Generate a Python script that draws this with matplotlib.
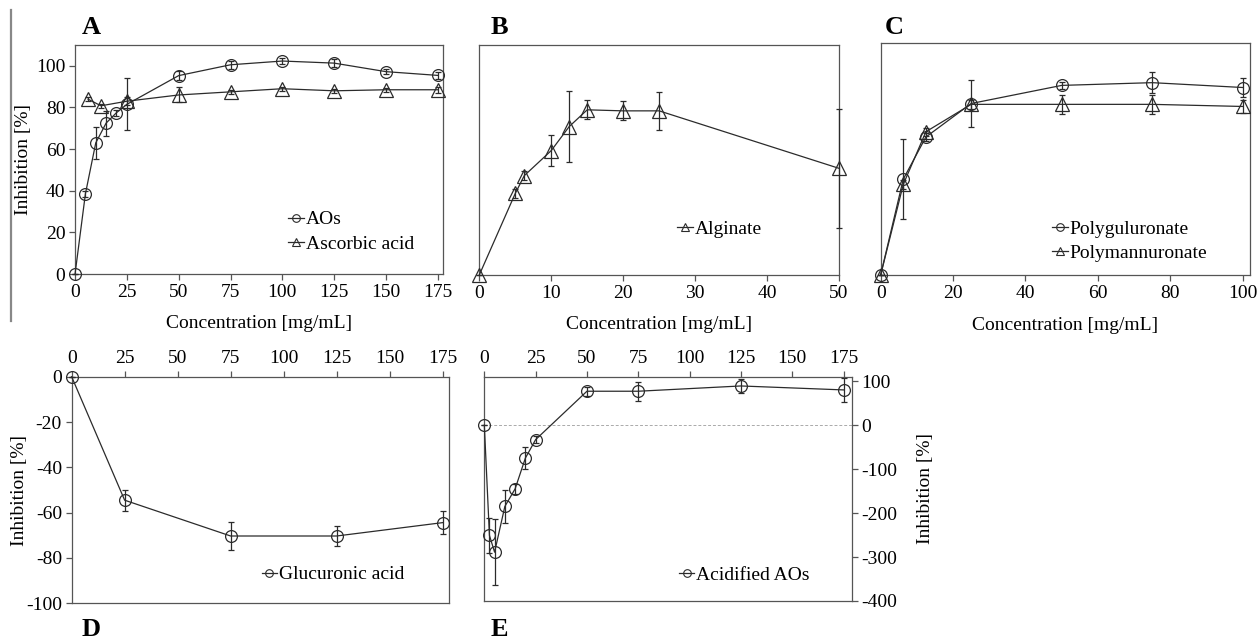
import numpy as np
import matplotlib.pyplot as plt
from matplotlib.lines import Line2D

plt.rcParams['font.family'] = ['Liberation Serif', 'DejaVu Serif']
plt.rcParams['font.size'] = 14
plt.rcParams['axes.unicode_minus'] = False

# panel A
aos_x = [0, 5, 10, 15, 20, 25, 50, 75, 100, 125, 150, 175]
aos_y = [0, 38.5, 63, 72.5, 77.5, 81.5, 95.3, 100.5, 102.3, 101.3, 97.2, 95.4]
aos_err = [0, 1.5, 7.7, 6, 1.5, 12.5, 2, 1.8, 1.5, 1.8, 1.3, 1.5]
asc_x = [6.25, 12.5, 25, 50, 75, 100, 125, 150, 175]
asc_y = [84, 80.8, 83, 86, 87.5, 89, 88, 88.5, 88.5]
asc_err = [1, 1, 2, 3.6, 1, 1, 1, 1, 1.5]

# panel B
alg_x = [0, 5, 6.25, 10, 12.5, 15, 20, 25, 50]
alg_y = [0, 39, 47.5, 59.5, 71, 79, 78.5, 78.5, 51]
alg_err = [0, 2, 2, 7.5, 17, 4.5, 4.5, 9, 28.3]

# panel C
pg_x = [0, 6.25, 12.5, 25, 50, 75, 100]
pg_y = [0, 45.5, 65.5, 81.4, 90, 91.3, 89]
pg_err = [0, 19, 2, 11, 1.5, 5, 4.5]
pm_x = [0, 6.25, 12.5, 25, 50, 75, 100]
pm_y = [0, 43, 68, 81, 81, 81, 80]
pm_err = [0, 2, 2, 2, 4.5, 4.5, 3]

# panel D
glc_x = [0, 25, 75, 125, 175]
glc_y = [0, -54.5, -70.3, -70.3, -64.4]
glc_err = [0, 4.6, 6, 4.5, 5]

# panel E
acid_x = [0, 2.5, 5, 10, 15, 20, 25, 50, 75, 125, 175]
acid_y = [0, -251, -289, -185, -145, -75, -33, 77, 77, 89, 80]
acid_err = [0, 40, 75, 38, 12, 25, 8, 10, 22, 15, 27]

LC = '#2b2b2b'
SPINE = '#555555'
FS = 14


def series(ax, x, y, err, marker, ms):
    ax.errorbar(x, y, yerr=err, color=LC, lw=0.9, elinewidth=0.9,
                capsize=2.5, capthick=0.9, marker=marker, ms=ms,
                mfc='none', mec=LC, mew=0.9, clip_on=False, zorder=3)


def style(ax):
    for s in ax.spines.values():
        s.set_color(SPINE)
        s.set_linewidth(0.9)
    ax.tick_params(direction='out', length=4, width=0.9, color=SPINE,
                   labelsize=FS, pad=3)


def legend(ax, entries, loc):
    handles = [Line2D([], [], color=LC, lw=0.9, marker=m, ms=5.5,
                      mfc='none', mec=LC, mew=0.8) for m, _ in entries]
    labels = [t for _, t in entries]
    ax.legend(handles, labels, loc='upper left', bbox_to_anchor=loc,
              frameon=False, handlelength=0.8, handletextpad=0.1,
              labelspacing=0.35, borderaxespad=0, fontsize=FS)


fig = plt.figure(figsize=(12.57, 6.42), dpi=100)

# A
axA = fig.add_axes([0.0597, 0.5732, 0.2927, 0.3567])
series(axA, aos_x, aos_y, aos_err, 'o', 8.5)
series(axA, asc_x, asc_y, asc_err, '^', 10)
axA.set_xlim(0, 177.5)
axA.set_ylim(0, 110)
axA.set_xticks([0, 25, 50, 75, 100, 125, 150, 175])
axA.set_yticks([0, 20, 40, 60, 80, 100])
axA.set_ylabel('Inhibition [%]')
axA.yaxis.set_label_coords(-0.117, 0.5)
axA.set_xlabel('Concentration [mg/mL]')
axA.xaxis.set_label_coords(0.5, -0.18)
style(axA)
legend(axA, [('o', 'AOs'), ('^', 'Ascorbic acid')], (0.559, 0.31))

# B
axB = fig.add_axes([0.3813, 0.5717, 0.2862, 0.3582])
series(axB, alg_x, alg_y, alg_err, '^', 10)
axB.set_xlim(0, 50)
axB.set_ylim(0, 110)
axB.set_xticks([0, 10, 20, 30, 40, 50])
axB.set_yticks([])
axB.set_xlabel('Concentration [mg/mL]')
axB.xaxis.set_label_coords(0.5, -0.18)
style(axB)
legend(axB, [('^', 'Alginate')], (0.528, 0.27))

# C
axC = fig.add_axes([0.7006, 0.5717, 0.2938, 0.3609])
series(axC, pg_x, pg_y, pg_err, 'o', 8.5)
series(axC, pm_x, pm_y, pm_err, '^', 10)
axC.set_xlim(0, 102)
axC.set_ylim(0, 110)
axC.set_xticks([0, 20, 40, 60, 80, 100])
axC.set_yticks([])
axC.set_xlabel('Concentration [mg/mL]')
axC.xaxis.set_label_coords(0.5, -0.18)
style(axC)
legend(axC, [('o', 'Polyguluronate'), ('^', 'Polymannuronate')], (0.443, 0.27))

# D
axD = fig.add_axes([0.0570, 0.0603, 0.3002, 0.3529])
series(axD, glc_x, glc_y, glc_err, 'o', 8.5)
axD.set_xlim(0, 178)
axD.set_ylim(-100, 0)
axD.xaxis.tick_top()
axD.set_xticks([0, 25, 50, 75, 100, 125, 150, 175])
axD.set_yticks([0, -20, -40, -60, -80, -100])
axD.set_ylabel('Inhibition [%]')
axD.yaxis.set_label_coords(-0.116, 0.5)
style(axD)
legend(axD, [('o', 'Glucuronic acid')], (0.483, 0.2))

# E
axE = fig.add_axes([0.3853, 0.0639, 0.2923, 0.3493])
axE.axhline(0, color='#aaaaaa', lw=0.7, ls=(0, (3, 2)), zorder=1)
series(axE, acid_x, acid_y, acid_err, 'o', 8.5)
axE.set_xlim(0, 179)
axE.set_ylim(-400, 110)
axE.xaxis.tick_top()
axE.yaxis.tick_right()
axE.yaxis.set_label_position('right')
axE.set_xticks([0, 25, 50, 75, 100, 125, 150, 175])
axE.set_yticks([100, 0, -100, -200, -300, -400])
axE.set_ylabel('Inhibition [%]')
axE.yaxis.set_label_coords(1.178, 0.5)
style(axE)
legend(axE, [('o', 'Acidified AOs')], (0.508, 0.19))

for txt, x, y in [('A', 0.065, 0.957), ('B', 0.39, 0.957), ('C', 0.704, 0.957),
                  ('D', 0.065, 0.02), ('E', 0.39, 0.02)]:
    fig.text(x, y, txt, fontsize=19, fontweight='bold', va='center')

fig.add_artist(Line2D([0.0085, 0.0085], [0.5, 0.985], color='#888888', lw=1.6))

fig.savefig('out.png', dpi=100)
